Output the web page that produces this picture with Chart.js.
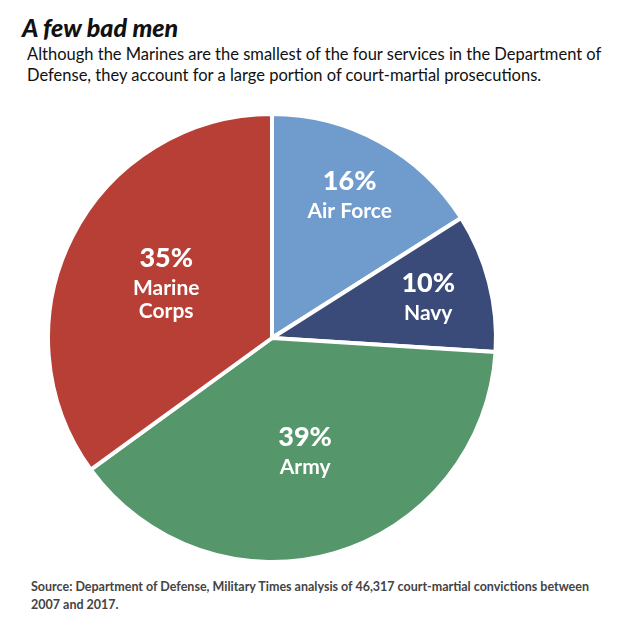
<!DOCTYPE html>
<html>
<head>
<meta charset="utf-8">
<script src="https://cdn.jsdelivr.net/npm/chart.js@4"></script>
<style>
  body { margin: 0; background: #fff; font-family: "Lato", "Open Sans", sans-serif; }
  #title { position: absolute; left: 22px; top: 12px; font: italic 900 25px "Lato", sans-serif; color: #111; }
  #sub { position: absolute; left: 27px; top: 44px; width: 610px; font: 16.5px "Lato", sans-serif; line-height: 21px; color: #111; }
  #src { position: absolute; left: 31px; top: 578px; width: 580px; font: bold 12.5px "Lato", sans-serif; line-height: 18px; color: #444; }
  #wrap { position: absolute; left: 42px; top: 108px; width: 460px; height: 460px; }
</style>
</head>
<body>
<div id="title">A few bad men</div>
<div id="sub">Although the Marines are the smallest of the four services in the Department of Defense, they account for a large portion of court-martial prosecutions.</div>
<div id="wrap"><canvas id="pie"></canvas></div>
<div id="src">Source: Department of Defense, Military Times analysis of 46,317 court-martial convictions between 2007 and 2017.</div>
<script>
const services = ["Air Force", "Navy", "Army", "Marine\nCorps"];
const shares = [16, 10, 39, 35];
const colors = ["#6f9bcd", "#3a4b79", "#55976b", "#b83f36"];
// radial position of each label as a fraction of the radius
const labelRadius = [0.72, 0.72, 0.53, 0.53];

const labelPlugin = {
  id: "sliceLabels",
  afterDatasetsDraw(chart) {
    const ctx = chart.ctx;
    chart.getDatasetMeta(0).data.forEach((arc, i) => {
      const mid = (arc.startAngle + arc.endAngle) / 2;
      const r = arc.outerRadius * labelRadius[i];
      const x = arc.x + Math.cos(mid) * r;
      const y = arc.y + Math.sin(mid) * r;
      const lines = services[i].split("\n");
      const top = y - (lines.length * 22) / 2 - 4;
      ctx.save();
      ctx.fillStyle = "#fff";
      ctx.textAlign = "center";
      ctx.textBaseline = "middle";
      ctx.font = "900 27px Lato, sans-serif";
      ctx.fillText(shares[i] + "%", x, top);
      ctx.font = "bold 21px Lato, sans-serif";
      lines.forEach((l, j) => ctx.fillText(l, x, top + 30 + j * 23));
      ctx.restore();
    });
  }
};

new Chart(document.getElementById("pie"), {
  type: "pie",
  data: {
    labels: services,
    datasets: [{ data: shares, backgroundColor: colors, borderColor: "#fff", borderWidth: 4 }]
  },
  options: {
    responsive: true,
    maintainAspectRatio: false,
    animation: false,
    radius: 224,
    layout: { padding: 0 },
    plugins: { legend: { display: false }, tooltip: { enabled: false } }
  },
  plugins: [labelPlugin]
});
</script>
</body>
</html>
